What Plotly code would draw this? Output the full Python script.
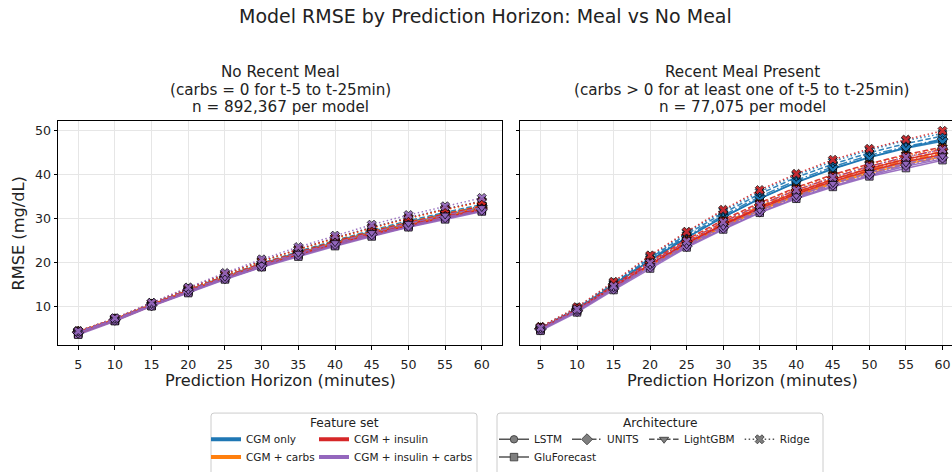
import plotly.graph_objects as go

# ---------------- data ----------------
HORIZONS = [5, 10, 15, 20, 25, 30, 35, 40, 45, 50, 55, 60]
X_TICKS = [5, 10, 15, 20, 25, 30, 35, 40, 45, 50, 55, 60]
Y_TICKS = [10, 20, 30, 40, 50]
FEATURE_SETS = ["CGM only", "CGM + carbs", "CGM + insulin", "CGM + insulin + carbs"]
ARCHITECTURES = ["LSTM", "GluForecast", "UNITS", "LightGBM", "Ridge"]

# No recent meal (RMSE, mg/dL)
nomeal_cgm_only = {
    "LSTM":        [4.1, 7.0, 10.3, 13.6, 16.7, 19.5, 22.1, 24.6, 26.8, 28.9, 30.8, 32.6],
    "GluForecast": [3.8, 6.8, 10.2, 13.4, 16.5, 19.3, 21.9, 24.3, 26.6, 28.6, 30.5, 32.3],
    "UNITS":       [4.1, 7.0, 10.4, 13.7, 16.8, 19.7, 22.3, 24.8, 27.1, 29.2, 31.1, 32.9],
    "LightGBM":    [4.2, 7.1, 10.5, 13.8, 16.9, 19.8, 22.5, 25.0, 27.3, 29.5, 31.4, 33.2],
    "Ridge":       [4.3, 7.2, 10.7, 14.1, 17.3, 20.3, 23.0, 25.6, 28.0, 30.2, 32.2, 34.0],
}
nomeal_cgm_carbs = {
    "LSTM":        [4.2, 7.1, 10.4, 13.6, 16.6, 19.4, 22.0, 24.4, 26.6, 28.7, 30.6, 32.3],
    "GluForecast": [3.7, 6.7, 10.1, 13.3, 16.4, 19.1, 21.7, 24.1, 26.3, 28.4, 30.3, 32.0],
    "UNITS":       [4.2, 7.0, 10.4, 13.6, 16.7, 19.5, 22.1, 24.6, 26.8, 28.9, 30.8, 32.6],
    "LightGBM":    [4.2, 7.1, 10.5, 13.7, 16.8, 19.7, 22.3, 24.8, 27.1, 29.2, 31.1, 32.9],
    "Ridge":       [4.3, 7.2, 10.7, 14.0, 17.2, 20.2, 22.9, 25.4, 27.8, 30.0, 32.0, 33.8],
}
nomeal_cgm_insulin = {
    "LSTM":        [4.0, 6.9, 10.2, 13.4, 16.4, 19.2, 21.8, 24.2, 26.4, 28.4, 30.3, 32.0],
    "GluForecast": [3.7, 6.7, 10.1, 13.2, 16.3, 19.0, 21.6, 23.9, 26.1, 28.2, 30.0, 31.8],
    "UNITS":       [4.1, 7.0, 10.3, 13.6, 16.6, 19.4, 22.0, 24.4, 26.6, 28.7, 30.6, 32.3],
    "LightGBM":    [4.2, 7.1, 10.5, 13.7, 16.8, 19.7, 22.3, 24.8, 27.0, 29.1, 31.0, 32.8],
    "Ridge":       [4.3, 7.2, 10.7, 14.1, 17.3, 20.3, 23.0, 25.6, 27.9, 30.1, 32.1, 33.9],
}
nomeal_cgm_insulin_carbs = {
    "LSTM":        [3.9, 6.8, 10.1, 13.2, 16.2, 19.0, 21.5, 23.9, 26.1, 28.1, 30.0, 31.7],
    "GluForecast": [3.5, 6.6, 10.0, 13.0, 16.1, 18.9, 21.3, 23.7, 25.9, 28.0, 29.8, 31.6],
    "UNITS":       [4.0, 6.9, 10.2, 13.4, 16.4, 19.2, 21.8, 24.2, 26.4, 28.4, 30.3, 32.0],
    "LightGBM":    [4.1, 7.0, 10.4, 13.6, 16.6, 19.5, 22.1, 24.5, 26.8, 28.9, 30.8, 32.5],
    "Ridge":       [4.3, 7.3, 10.8, 14.3, 17.6, 20.7, 23.5, 26.1, 28.6, 30.8, 32.8, 34.7],
}

# Recent meal present (RMSE, mg/dL)
meal_cgm_only = {
    "LSTM":        [5.0, 9.3, 14.9, 20.5, 25.7, 30.3, 34.5, 38.2, 41.3, 43.9, 46.0, 47.6],
    "GluForecast": [4.8, 9.2, 14.8, 20.4, 25.6, 30.3, 34.6, 38.3, 41.4, 44.0, 46.2, 47.9],
    "UNITS":       [5.0, 9.4, 15.0, 20.7, 26.0, 30.7, 35.0, 38.7, 41.8, 44.4, 46.4, 48.1],
    "LightGBM":    [5.1, 9.5, 15.2, 21.0, 26.4, 31.2, 35.6, 39.4, 42.4, 45.0, 47.1, 48.8],
    "Ridge":       [5.2, 9.6, 15.4, 21.3, 26.8, 31.7, 36.1, 39.9, 43.0, 45.6, 47.8, 49.4],
}
meal_cgm_carbs = {
    "LSTM":        [4.8, 9.0, 14.2, 19.3, 24.0, 28.3, 32.0, 35.3, 38.2, 40.7, 42.8, 44.5],
    "GluForecast": [4.6, 8.9, 14.1, 19.2, 23.9, 28.1, 31.8, 35.1, 37.9, 40.3, 42.4, 44.1],
    "UNITS":       [4.9, 9.1, 14.4, 19.5, 24.3, 28.6, 32.4, 35.7, 38.6, 41.1, 43.2, 44.9],
    "LightGBM":    [5.0, 9.2, 14.5, 19.7, 24.6, 28.9, 32.8, 36.1, 39.0, 41.5, 43.6, 45.3],
    "Ridge":       [5.2, 9.4, 14.8, 20.1, 25.1, 29.5, 33.4, 36.9, 39.8, 42.3, 44.4, 46.1],
}
meal_cgm_insulin = {
    "LSTM":        [4.9, 9.1, 14.4, 19.6, 24.4, 28.7, 32.6, 36.0, 38.9, 41.4, 43.5, 45.2],
    "GluForecast": [4.7, 9.0, 14.3, 19.5, 24.3, 28.5, 32.3, 35.6, 38.5, 40.9, 43.0, 44.6],
    "UNITS":       [4.9, 9.2, 14.6, 19.9, 24.8, 29.2, 33.1, 36.5, 39.4, 41.9, 44.0, 45.8],
    "LightGBM":    [5.0, 9.3, 14.8, 20.2, 25.2, 29.7, 33.6, 37.1, 40.0, 42.5, 44.6, 46.3],
    "Ridge":       [5.3, 9.8, 15.6, 21.6, 27.0, 32.0, 36.5, 40.2, 43.4, 45.9, 48.0, 50.0],
}
meal_cgm_insulin_carbs = {
    "LSTM":        [4.6, 8.8, 13.9, 18.9, 23.6, 27.7, 31.4, 34.7, 37.4, 39.8, 41.9, 43.6],
    "GluForecast": [4.4, 8.6, 13.7, 18.6, 23.4, 27.5, 31.3, 34.5, 37.2, 39.6, 41.5, 43.3],
    "UNITS":       [4.7, 8.9, 14.0, 19.0, 23.7, 27.9, 31.6, 34.9, 37.7, 40.1, 42.2, 43.9],
    "LightGBM":    [4.8, 9.0, 14.2, 19.3, 24.0, 28.2, 31.9, 35.2, 38.0, 40.5, 42.6, 44.3],
    "Ridge":       [5.1, 9.3, 14.6, 19.9, 24.8, 29.2, 33.1, 36.5, 39.4, 41.9, 44.0, 45.7],
}

NOMEAL = [nomeal_cgm_only, nomeal_cgm_carbs, nomeal_cgm_insulin, nomeal_cgm_insulin_carbs]
MEAL = [meal_cgm_only, meal_cgm_carbs, meal_cgm_insulin, meal_cgm_insulin_carbs]

# ---------------- styles ----------------
FS_COLORS = {"CGM only": "#1f77b4", "CGM + carbs": "#ff7f0e",
             "CGM + insulin": "#d62728", "CGM + insulin + carbs": "#9467bd"}
ARCH_STYLE = {
    "LSTM":        dict(symbol="circle", dash="solid", size=7.5),
    "GluForecast": dict(symbol="square", dash="solid", size=7.5),
    "UNITS":       dict(symbol="diamond", dash="9px,2.5px,1.5px,2.5px", size=8.5),
    "LightGBM":    dict(symbol="triangle-down", dash="5.5px,2.5px", size=8),
    "Ridge":       dict(symbol="x", dash="1.5px,2.5px", size=8),
}

W, H = 952, 472
FONT = "DejaVu Sans"


def px(xp):
    return xp / W


def py(yp):
    return 1 - yp / H


fig = go.Figure()

for panel, (xa, ya) in zip([NOMEAL, MEAL], [("x", "y"), ("x2", "y2")]):
    for fs, data in zip(FEATURE_SETS, panel):
        for arch in ARCHITECTURES:
            st = ARCH_STYLE[arch]
            fig.add_trace(go.Scatter(
                x=HORIZONS, y=data[arch], xaxis=xa, yaxis=ya,
                mode="lines+markers", showlegend=False,
                name=f"{fs} / {arch}",
                opacity=0.9,
                line=dict(color=FS_COLORS[fs], width=1.5, dash=st["dash"]),
                marker=dict(symbol=st["symbol"], size=st["size"], color=FS_COLORS[fs],
                            line=dict(color="black", width=0.8)),
            ))

# legend entries: feature sets (two rows)
fs_rows = [("legend", ["CGM only", "CGM + insulin"]),
           ("legend2", ["CGM + carbs", "CGM + insulin + carbs"])]
for lg, names in fs_rows:
    for i, name in enumerate(names):
        fig.add_trace(go.Scatter(
            x=[None], y=[None], mode="lines", name=name, legend=lg,
            line=dict(color=FS_COLORS[name], width=4),
            legendwidth=63 if i == 0 else None,
        ))

# legend entries: architectures (two rows)
arch_rows = [("legend3", ["LSTM", "UNITS", "LightGBM", "Ridge"]),
             ("legend4", ["GluForecast"])]
for lg, names in arch_rows:
    for name in names:
        st = ARCH_STYLE[name]
        fig.add_trace(go.Scatter(
            x=[None], y=[None], mode="lines+markers", name=name, legend=lg,
            line=dict(color="#555555", width=1.5, dash=st["dash"]),
            marker=dict(symbol=st["symbol"], size=st["size"], color="#7f7f7f",
                        line=dict(color="#333333", width=0.8)),
        ))

leg_common = dict(orientation="h", xanchor="left", yanchor="middle",
                  bgcolor="rgba(0,0,0,0)", borderwidth=0,
                  font=dict(family=FONT, size=10.5, color="#222222"),
                  itemclick=False, itemdoubleclick=False, tracegroupgap=0)

axis_common = dict(showline=True, linecolor="black", linewidth=1, mirror=True,
                   ticks="outside", ticklen=3.5, tickwidth=1, tickcolor="black",
                   showgrid=True, gridcolor="#e6e6e6", gridwidth=0.8, zeroline=False,
                   tickfont=dict(family=FONT, size=12.6, color="#222222"))

y_dom = [py(349), py(122)]

fig.update_layout(
    width=W, height=H, autosize=False,
    margin=dict(l=0, r=0, t=0, b=0),
    paper_bgcolor="white", plot_bgcolor="white",
    font=dict(family=FONT, color="#222222"),
    xaxis=dict(domain=[px(58), px(502)], range=[2.25, 62.75], tickvals=X_TICKS,
               anchor="y", ticklabelstandoff=4, **axis_common),
    yaxis=dict(domain=y_dom, range=[1.1, 52.3], tickvals=Y_TICKS, anchor="x",
               **axis_common),
    xaxis2=dict(domain=[px(520), 1.0], range=[2.2, 61.3], tickvals=X_TICKS,
                anchor="y2", ticklabelstandoff=4, **axis_common),
    yaxis2=dict(domain=y_dom, range=[1.1, 52.3], tickvals=Y_TICKS, anchor="x2",
                matches="y", showticklabels=False, **axis_common),
    legend=dict(x=px(206), y=py(444), **leg_common),
    legend2=dict(x=px(206), y=py(462), **leg_common),
    legend3=dict(x=px(494), y=py(444), **leg_common),
    legend4=dict(x=px(494), y=py(462), **leg_common),
    showlegend=True,
)

# titles & labels
ann = []
ann.append(dict(text="Model RMSE by Prediction Horizon: Meal vs No Meal",
                x=px(486), y=py(16), font=dict(size=19)))
left_title = ["No Recent Meal", "(carbs = 0 for t-5 to t-25min)", "n = 892,367 per model"]
right_title = ["Recent Meal Present", "(carbs > 0 for at least one of t-5 to t-25min)",
               "n = 77,075 per model"]
for lines, cx in [(left_title, 280), (right_title, 742)]:
    for line, cy in zip(lines, [73, 91, 108.5]):
        ann.append(dict(text=line, x=px(cx), y=py(cy), font=dict(size=15.2)))
ann.append(dict(text="Prediction Horizon (minutes)", x=px(280), y=py(385),
                font=dict(size=16.2)))
ann.append(dict(text="Prediction Horizon (minutes)", x=px(742), y=py(385),
                font=dict(size=16.2)))
ann.append(dict(text="RMSE (mg/dL)", x=px(18), y=py(236), textangle=-90,
                font=dict(size=16.2)))
ann.append(dict(text="Feature set", x=px(344), y=py(428), font=dict(size=12.2)))
ann.append(dict(text="Architecture", x=px(660), y=py(428), font=dict(size=12.2)))
for a in ann:
    a.update(xref="paper", yref="paper", showarrow=False, xanchor="center",
             yanchor="middle")
    a["font"].update(family=FONT, color="#222222")
    fig.add_annotation(**a)


def rounded_box(x0, y0, x1, y1, r=3):
    X0, X1 = px(x0), px(x1)
    Y0, Y1 = py(y0), py(y1)
    rx, ry = r / W, r / H
    return (f"M {X0 + rx},{Y0} L {X1 - rx},{Y0} Q {X1},{Y0} {X1},{Y0 - ry} "
            f"L {X1},{Y1 + ry} Q {X1},{Y1} {X1 - rx},{Y1} L {X0 + rx},{Y1} "
            f"Q {X0},{Y1} {X0},{Y1 + ry} L {X0},{Y0 - ry} Q {X0},{Y0} {X0 + rx},{Y0} Z")


for (x0, x1) in [(211, 477), (497, 823)]:
    fig.add_shape(type="path", xref="paper", yref="paper",
                  path=rounded_box(x0, 417.5, x1, 480),
                  line=dict(color="#cccccc", width=1), fillcolor="rgba(255,255,255,0.8)",
                  layer="below")

fig.write_html("out.html", config={"displayModeBar": False},
               post_script="document.body.style.margin='0';document.body.style.padding='0';")
